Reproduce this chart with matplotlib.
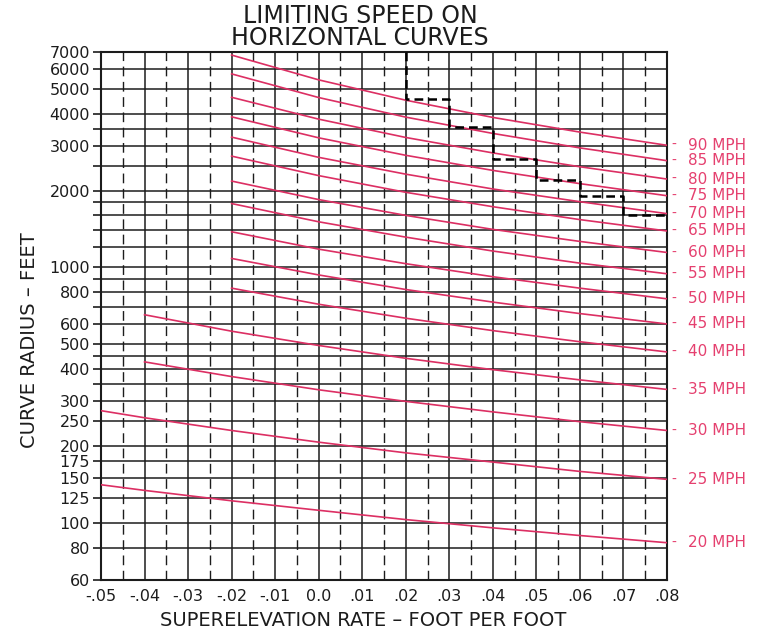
import matplotlib.pyplot as plt
from matplotlib.ticker import NullFormatter

plt.rcParams.update({
    'font.family': 'DejaVu Sans',
    'font.size': 10,
})

# superelevation positions where each group of curves was read
x_from_m02 = [-0.02, 0.0, 0.02, 0.04, 0.06, 0.08]
x_from_m04 = [-0.04, -0.02, 0.0, 0.02, 0.04, 0.06, 0.08]
x_from_m05 = [-0.05, -0.04, -0.02, 0.0, 0.02, 0.04, 0.06, 0.08]

# curve radius (feet) for each speed
r90 = [6790, 5430, 4520, 3870, 3390, 3010]
r85 = [5730, 4630, 3880, 3350, 2940, 2620]
r80 = [4640, 3810, 3230, 2810, 2480, 2220]
r75 = [3890, 3220, 2750, 2400, 2130, 1910]
r70 = [3240, 2700, 2320, 2030, 1810, 1625]
r65 = [2730, 2290, 1970, 1730, 1540, 1390]
r60 = [2180, 1845, 1600, 1410, 1265, 1145]
r55 = [1780, 1510, 1315, 1160, 1040, 945]
r50 = [1380, 1180, 1035, 920, 830, 754]
r45 = [1085, 935, 820, 732, 660, 601]
r40 = [830, 718, 633, 566, 512, 467]
r35 = [653, 563, 495, 441, 398, 363, 333]
r30 = [427, 374, 332, 299, 272, 249, 230]
r25 = [275, 258, 230, 207, 188, 173, 159, 148]
r20 = [141, 134, 122, 112, 103, 95.6, 89.2, 83.6]

speeds = [90, 85, 80, 75, 70, 65, 60, 55, 50, 45, 40, 35, 30, 25, 20]
curves = [
    (x_from_m02, r90), (x_from_m02, r85), (x_from_m02, r80), (x_from_m02, r75),
    (x_from_m02, r70), (x_from_m02, r65), (x_from_m02, r60), (x_from_m02, r55),
    (x_from_m02, r50), (x_from_m02, r45), (x_from_m02, r40),
    (x_from_m04, r35), (x_from_m04, r30),
    (x_from_m05, r25), (x_from_m05, r20),
]

# dashed step line
step_x = [0.02, 0.02, 0.03, 0.04, 0.05, 0.06, 0.07, 0.08]
step_r = [7000, 4550, 3550, 2650, 2200, 1900, 1600, 1600]

# axes ticks
x_ticks = [-0.05, -0.04, -0.03, -0.02, -0.01, 0.0, 0.01, 0.02, 0.03, 0.04, 0.05, 0.06, 0.07, 0.08]
x_labels = ['-.05', '-.04', '-.03', '-.02', '-.01', '0.0', '.01', '.02', '.03', '.04', '.05', '.06', '.07', '.08']
x_minor = [-0.045, -0.035, -0.025, -0.015, -0.005, 0.005, 0.015, 0.025, 0.035, 0.045, 0.055, 0.065, 0.075]
y_ticks = [60, 80, 100, 125, 150, 175, 200, 250, 300, 400, 500, 600, 800, 1000, 2000, 3000, 4000, 5000, 6000, 7000]
y_minor = [350, 450, 700, 900, 1200, 1400, 1600, 1800, 2500, 3500]

red = '#dc2f63'
pink = '#e5406f'
ink = '#1c1c1c'

fig = plt.figure(figsize=(7.67, 6.33), dpi=100)
ax = fig.add_axes([101 / 767, 1 - 579.5 / 633, 566 / 767, 527.8 / 633])
ax.set_yscale('log')
ax.set_xlim(-0.05, 0.08)
ax.set_ylim(60, 7000)

ax.set_xticks(x_ticks)
ax.set_xticklabels(x_labels)
ax.set_xticks(x_minor, minor=True)
ax.set_yticks(y_ticks)
ax.set_yticklabels([str(v) for v in y_ticks])
ax.set_yticks(y_minor, minor=True)
ax.yaxis.set_minor_formatter(NullFormatter())

# grid: solid lines, dashed verticals in between
ax.grid(which='major', axis='both', color=ink, lw=1.1)
ax.yaxis.grid(True, which='minor', color=ink, lw=1.1)
ax.xaxis.grid(True, which='minor', color=ink, lw=1.0, linestyle=(0, (7, 4)))

ax.tick_params(axis='x', which='both', length=0, pad=7, labelsize=11.5, colors=ink)
ax.tick_params(axis='y', which='both', length=6, width=1.2, pad=2, labelsize=11.5, colors=ink)
for sp in ax.spines.values():
    sp.set_linewidth(1.5)
    sp.set_color(ink)

for s, (xs, rs) in zip(speeds, curves):
    ax.plot(xs, rs, color=red, lw=1.2, zorder=3)
    ax.annotate('-', xy=(0.08, rs[-1]), xytext=(5, 0), textcoords='offset points',
                ha='center', va='center', color=pink, fontsize=10, annotation_clip=False)
    ax.annotate(f'{s} MPH', xy=(0.08, rs[-1]), xytext=(15, 0), textcoords='offset points',
                ha='left', va='center', color=pink, fontsize=11, annotation_clip=False)

ax.plot(step_x, step_r, drawstyle='steps-post', color='black', lw=1.8,
        linestyle=(0, (3.5, 2)), zorder=4)

# titles and axis labels
fig.text(360 / 767, 1 - 27 / 633, 'LIMITING SPEED ON\nHORIZONTAL CURVES', ha='center', va='center',
         fontsize=17, color=ink, linespacing=0.85)
fig.text(363 / 767, 1 - 621 / 633, 'SUPERELEVATION RATE – FOOT PER FOOT',
         ha='center', va='center', fontsize=14, color=ink)
fig.text(30 / 767, 1 - 340 / 633, 'CURVE RADIUS – FEET', rotation=90,
         ha='center', va='center', fontsize=14, color=ink)

fig.savefig('out.png', dpi=100, facecolor='white')
